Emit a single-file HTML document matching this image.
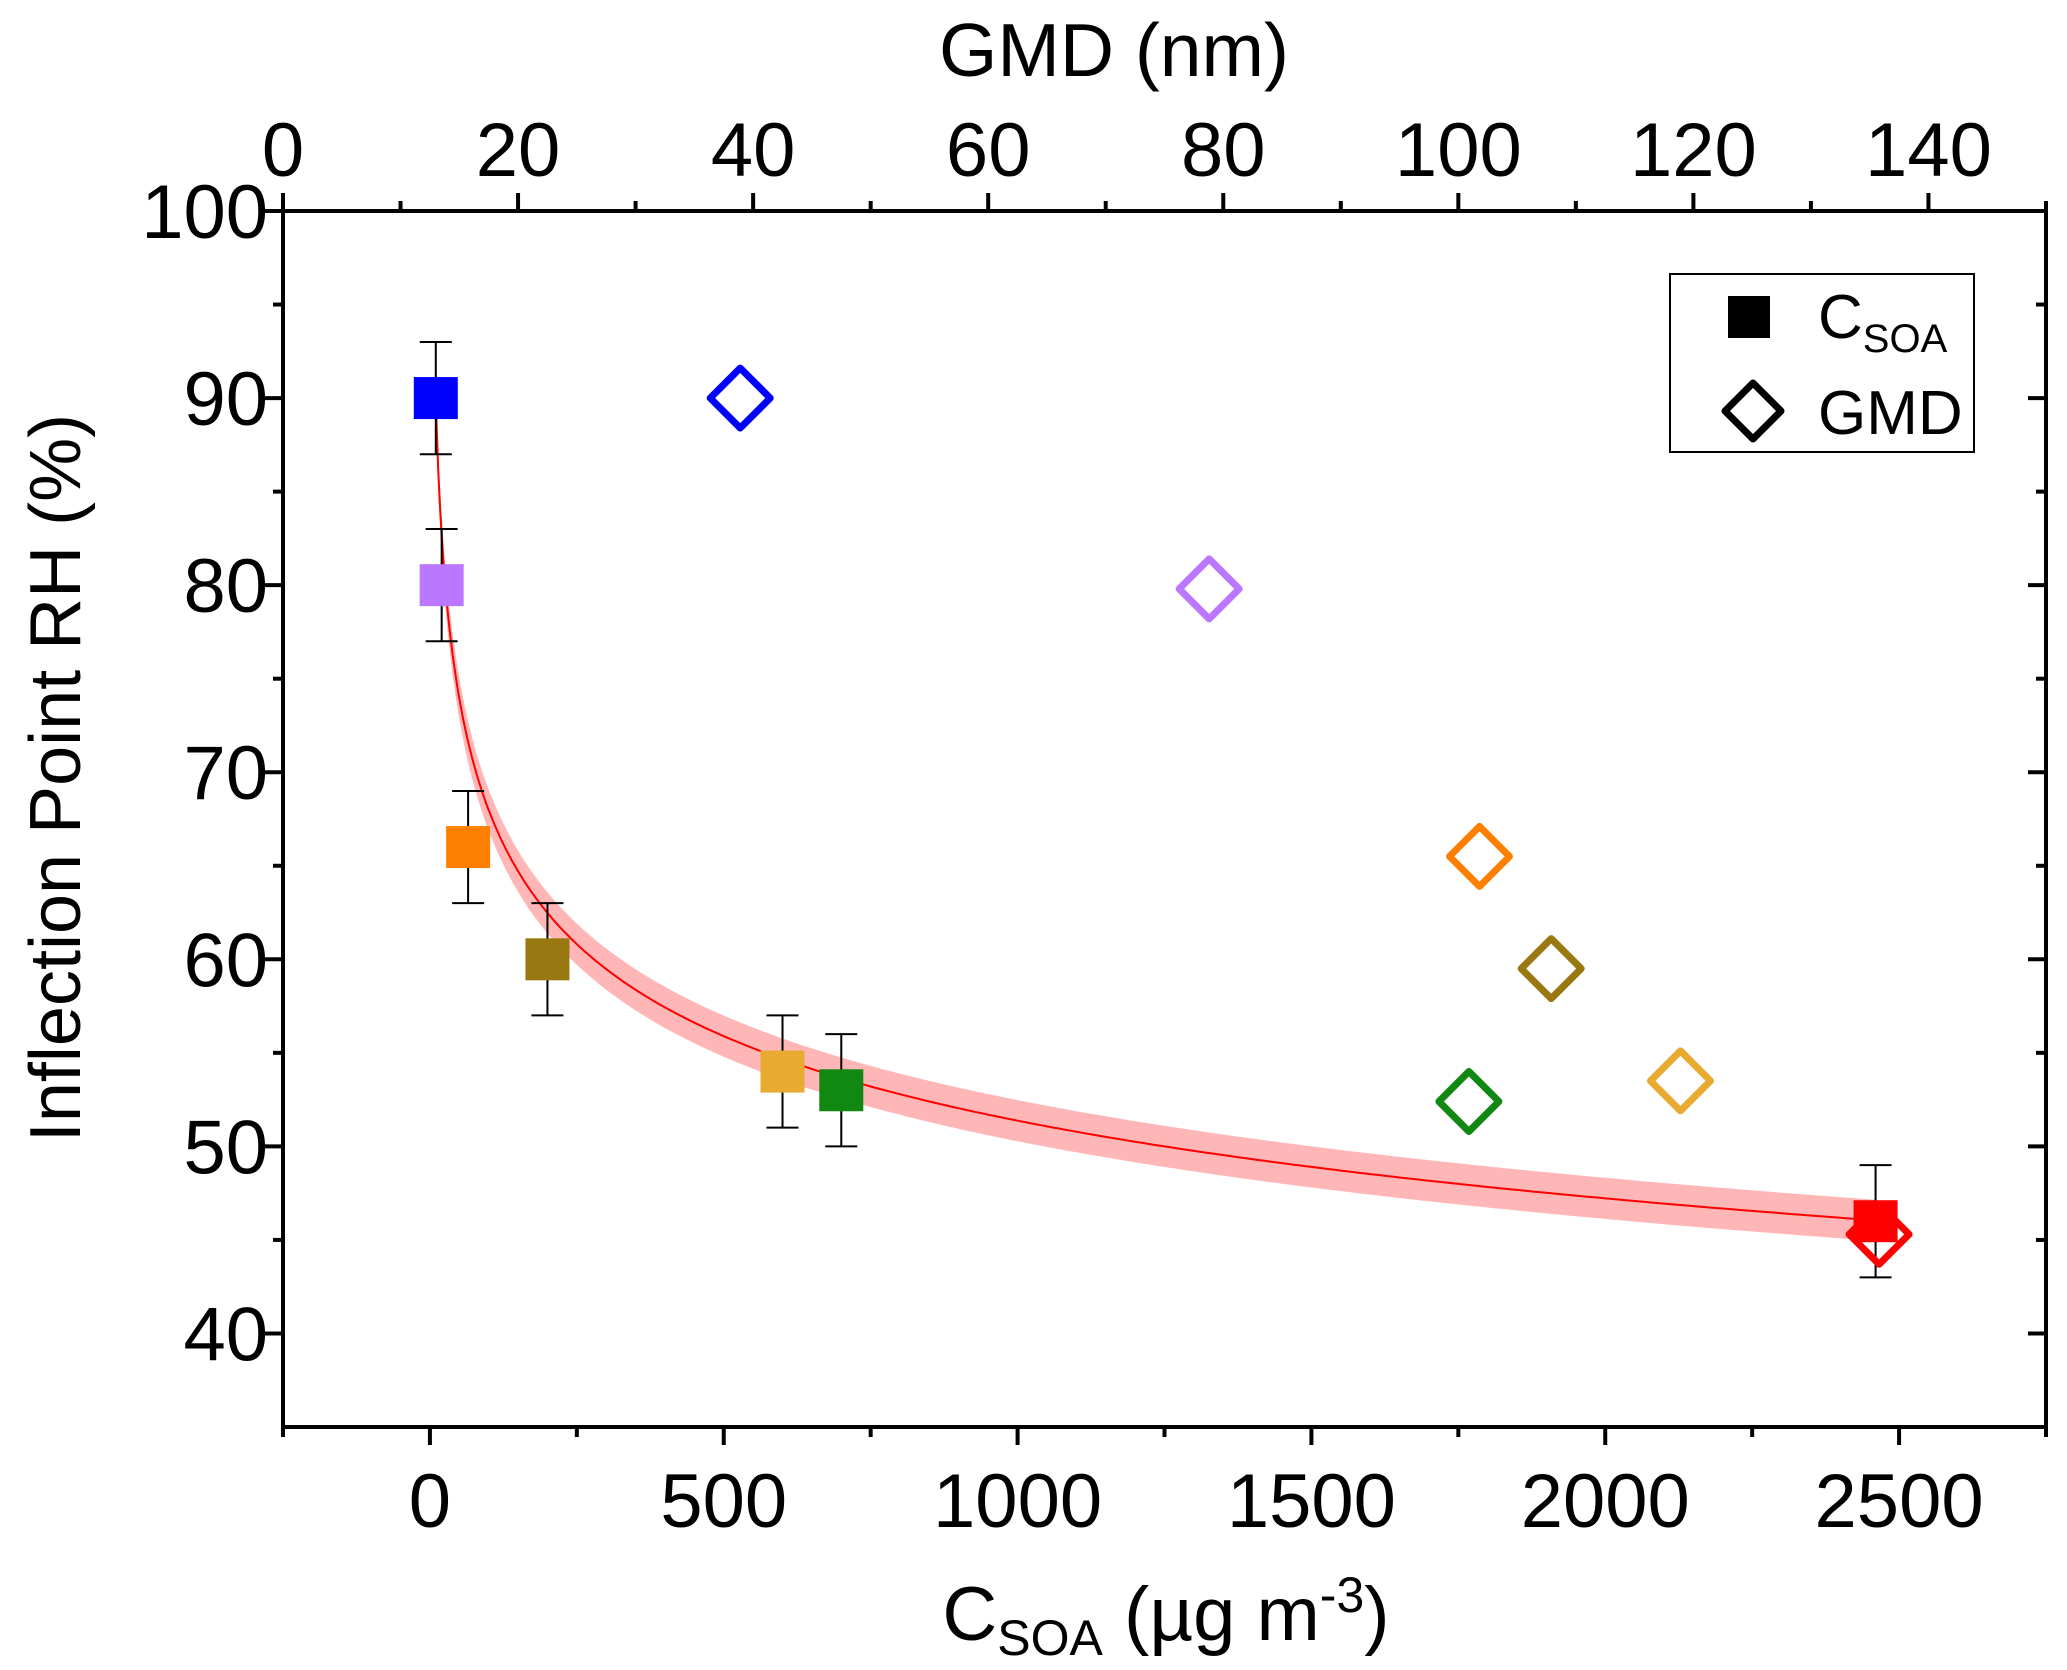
<!DOCTYPE html>
<html><head><meta charset="utf-8"><style>
html,body{margin:0;padding:0;background:#fff;}
svg{display:block;font-family:"Liberation Sans",Arial,sans-serif;}
</style></head><body>
<svg id="chart" width="2067" height="1670" viewBox="0 0 2067 1670">
<g id="band"></g>
<g id="fit"></g>
<g id="axes"></g>
<g id="marks"></g>
<g>
<rect x="1670" y="274" width="304" height="178" fill="#fff" stroke="#000" stroke-width="2"/>
<rect x="1728" y="296" width="42" height="42" fill="#000"/>
<text x="1818" y="338" font-size="62">C<tspan font-size="40" dy="14">SOA</tspan></text>
<path d="M1753 383 L1781 411 L1753 439 L1725 411 Z" fill="none" stroke="#000" stroke-width="7" stroke-linejoin="round"/>
<text x="1818" y="434" font-size="62">GMD</text>
</g>
<text x="1114" y="76" font-size="75" text-anchor="middle">GMD (nm)</text>
<text x="1166" y="1640" font-size="76" text-anchor="middle">C<tspan font-size="50" dy="15">SOA</tspan><tspan dy="-15"> (µg m</tspan><tspan font-size="50" dy="-28">-3</tspan><tspan dy="28">)</tspan></text>
<text transform="translate(80,778) rotate(-90)" font-size="72" text-anchor="middle">Inflection Point RH (%)</text>
</svg>
<script>
const csoa = [10, 20, 65, 200, 600, 700, 2460];
const rhCsoa = [90, 80, 66, 60, 54, 53, 46];
const rhErr = [3, 3, 3, 3, 3, 3, 3];
const gmd = [38.9, 78.8, 101.8, 107.9, 118.9, 100.9, 135.8];
const rhGmd = [90, 79.8, 65.5, 59.5, 53.5, 52.4, 45.3];
const colors = ["#0000ff", "#bb77ff", "#ff8000", "#997711", "#e8aa30", "#118811", "#ff0000"];
const yTicks = [40, 50, 60, 70, 80, 90, 100];
const xTicks = [0, 500, 1000, 1500, 2000, 2500];
const gTicks = [0, 20, 40, 60, 80, 100, 120, 140];
const fitA = 119.0, fitP = 0.1216, bandHalf = 1.1;

const L = 283, R = 2046, T = 211, B = 1427;
const X0 = -250, X1 = 2750, G0 = 0, G1 = 150, Y0 = 35, Y1 = 100;
const sx = v => L + (v - X0) / (X1 - X0) * (R - L);
const sg = v => L + (v - G0) / (G1 - G0) * (R - L);
const sy = v => B - (v - Y0) / (Y1 - Y0) * (B - T);
const NS = "http://www.w3.org/2000/svg";
function mk(tag, attrs, parent) {
  const e = document.createElementNS(NS, tag);
  for (const k in attrs) e.setAttribute(k, attrs[k]);
  parent.appendChild(e);
  return e;
}
const axes = document.getElementById('axes');
const marks = document.getElementById('marks');

const fitY = x => fitA * Math.pow(x, -fitP);
let up = [], dn = [], line = [];
for (let x = csoa[0]; x <= csoa[csoa.length - 1]; x += (x < 100 ? 1 : 10)) {
  up.push(sx(x).toFixed(1) + ',' + sy(fitY(x) + bandHalf).toFixed(1));
  dn.push(sx(x).toFixed(1) + ',' + sy(fitY(x) - bandHalf).toFixed(1));
  line.push(sx(x).toFixed(1) + ',' + sy(fitY(x)).toFixed(1));
}
const bp = mk('polygon', {points: up.concat(dn.reverse()).join(' '), fill: '#ffb6b6'}, document.getElementById('band'));


const fl = mk('polyline', {points: line.join(' '), fill: 'none', stroke: '#ff0000', 'stroke-width': 2}, document.getElementById('fit'));



const frame = mk('rect', {x: L, y: T, width: R - L, height: B - T, fill: 'none', stroke: '#000', 'stroke-width': 4}, axes);


function tick(x1, y1, x2, y2, name) {
  const t = mk('line', {x1, y1, x2, y2, stroke: '#000', 'stroke-width': 4}, axes);
  
  
}
function label(x, y, txt, anchor, name) {
  const t = mk('text', {x, y, 'font-size': 76, 'text-anchor': anchor}, axes);
  t.textContent = txt;
  
  
}
for (let v = 40; v <= 100; v += 5) {
  const major = v % 10 === 0;
  tick(L, sy(v), L - (major ? 18 : 10), sy(v), 'y-tick');
  tick(R, sy(v), R - (major ? 18 : 10), sy(v), 'right-y-tick');
}
yTicks.forEach(v => label(268, sy(v) + 27, String(v), 'end', 'y-tick-label'));
for (let v = -250; v <= 2750; v += 250) {
  const major = v % 500 === 0;
  tick(sx(v), B, sx(v), B + (major ? 18 : 10), 'x-tick');
}
xTicks.forEach(v => label(sx(v), 1527, String(v), 'middle', 'x-tick-label'));
for (let v = 0; v <= 150; v += 10) {
  const major = v % 20 === 0;
  tick(sg(v), T, sg(v), T - (major ? 18 : 10), 'top-x-tick');
}
gTicks.forEach(v => label(sg(v), 176, String(v), 'middle', 'top-x-tick-label'));

csoa.forEach((c, i) => {
  const x = sx(c);
  const eb = mk('path', {d: `M${x} ${sy(rhCsoa[i] + rhErr[i])} V${sy(rhCsoa[i] - rhErr[i])} M${x - 16} ${sy(rhCsoa[i] + rhErr[i])} h32 M${x - 16} ${sy(rhCsoa[i] - rhErr[i])} h32`, stroke: '#000', 'stroke-width': 2, fill: 'none'}, marks);
  
  
});
csoa.forEach((c, i) => {
  const s = mk('rect', {x: sx(c) - 22, y: sy(rhCsoa[i]) - 21, width: 44, height: 42, fill: colors[i]}, marks);
  
  
});
gmd.forEach((g, i) => {
  const x = sg(g), y = sy(rhGmd[i]);
  const d = mk('path', {d: `M${x} ${y - 30} L${x + 30} ${y} L${x} ${y + 30} L${x - 30} ${y} Z`, fill: 'none', stroke: colors[i], 'stroke-width': 7, 'stroke-linejoin': 'round'}, marks);
  
  
});
</script>
</body></html>
